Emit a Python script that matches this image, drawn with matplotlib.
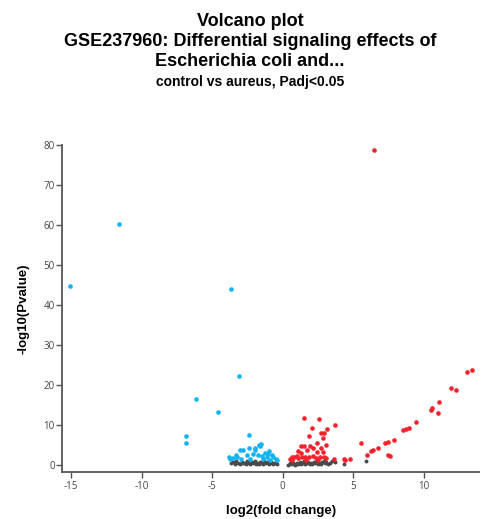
import matplotlib.pyplot as plt

# down-regulated (blue)
down_x = [-15.1, -11.6, -3.67, -3.12, -6.15, -4.61, -6.86, -6.86, -2.39,
          -1.52, -1.61, -1.94, -2.39, -2.79, -0.99, -1.28, -2.09, -2.55, -1.77,
          -1.47, -1.13, -0.78, -0.67, -0.50, -3.26, -3.55, -2.32, -1.38, -0.43,
          -3.74, -3.03, -3.33, -1.96, -1.66, -3.80, -2.95, -0.90, -1.05]
down_y = [44.8, 60.2, 44.1, 22.4, 16.6, 13.4, 7.2, 5.5, 7.5,
          5.3, 4.7, 4.3, 4.2, 3.8, 3.6, 3.2, 2.8, 2.7, 2.6,
          2.3, 2.2, 2.6, 2.0, 1.7, 2.2, 1.8, 1.7, 1.7, 1.3,
          1.7, 3.8, 2.7, 3.8, 5.1, 2.2, 1.6, 1.4, 2.9]

# up-regulated (red)
up_x = [6.5, 13.05, 13.45, 11.96, 12.29, 11.06, 10.61, 10.5, 11.01, 9.45,
        8.55, 8.74, 8.93, 7.87, 7.45, 7.26, 5.55, 6.74, 6.38, 6.26,
        5.98, 7.49, 7.63, 4.37, 4.77, 4.44,
        1.51, 2.57, 3.71, 2.08, 3.16, 2.72, 2.95, 1.87, 2.84, 2.46,
        3.09, 1.28, 1.49, 1.94, 2.13, 1.70, 2.70, 2.46, 2.86, 1.09,
        1.28, 0.99, 0.64, 0.82, 0.52, 1.11, 1.35, 1.58, 1.89, 2.17,
        2.36, 2.65, 2.95, 3.09, 3.66, 0.66, 1.65, 2.53]
up_y = [78.8, 23.2, 23.8, 19.2, 18.7, 15.7, 14.3, 13.8, 13.0, 10.7,
        8.7, 9.0, 9.2, 6.2, 5.9, 5.6, 5.6, 4.3, 3.7, 3.5,
        2.7, 2.7, 2.3, 1.7, 1.5, 1.3,
        11.7, 11.5, 10.0, 9.2, 9.1, 8.0, 8.0, 7.2, 6.7, 5.5,
        5.0, 4.7, 4.7, 4.7, 4.2, 3.8, 4.2, 3.4, 3.3, 3.6,
        3.0, 2.3, 2.2, 2.0, 1.7, 1.8, 2.2, 2.0, 2.0, 2.3,
        1.8, 2.0, 2.2, 1.8, 1.7, 1.3, 1.3, 1.3]

# not significant (gray)
ns_x = [-3.7, -3.55, -3.4, -3.3, -3.15, -3.0, -2.9, -2.8, -2.7, -2.6, -2.5,
        -2.4, -2.3, -2.2, -2.1, -2.0, -1.9, -1.8, -1.7, -1.6, -1.5, -1.4,
        -1.3, -1.2, -1.1, -1.0, -0.9, -0.8, -0.7, -0.6, -0.5, -0.4,
        0.4, 0.5, 0.6, 0.7, 0.8, 0.9, 1.0, 1.1, 1.2, 1.3, 1.4, 1.5, 1.6,
        1.7, 1.8, 1.9, 2.0, 2.1, 2.2, 2.3, 2.4, 2.5, 2.6, 2.7, 2.8, 2.9,
        3.0, 3.1, 3.2, 3.35, 3.5, 3.7, 4.37, 5.93]
ns_y = [0.5, 0.8, 0.4, 1.0, 0.6, 0.3, 0.9, 0.5, 0.7, 0.4, 1.1,
        0.6, 0.3, 0.8, 0.5, 1.0, 0.4, 0.7, 0.3, 0.9, 0.6, 0.4,
        1.0, 0.5, 0.8, 0.3, 0.6, 0.9, 0.4, 0.7, 0.5, 0.3,
        0.2, 0.5, 0.3, 0.7, 0.4, 0.2, 0.6, 0.3, 0.8, 0.4, 0.5, 1.0, 0.3,
        0.6, 0.8, 0.4, 0.7, 0.3, 0.9, 0.5, 1.1, 0.4, 0.7, 0.3, 0.9, 1.2,
        0.5, 0.8, 0.3, 0.6, 1.1, 0.9, 0.4, 1.0]

title_lines = "Volcano plot\nGSE237960: Differential signaling effects of\nEscherichia coli and..."
subtitle = "control vs aureus, Padj<0.05"

plt.rcParams['font.family'] = ['Liberation Sans', 'DejaVu Sans']
plt.rcParams['axes.unicode_minus'] = False

fig = plt.figure(figsize=(4.81, 5.19), dpi=100)
ax = fig.add_axes([0.1295, 0.0911, 0.8705, 0.6295])

ax.scatter(ns_x, ns_y, s=8, color='#4a4a4a', linewidths=0, zorder=2)
ax.scatter(down_x, down_y, s=11, color='#10b4f5', linewidths=0, zorder=3)
ax.scatter(up_x, up_y, s=11, color='#f5222d', linewidths=0, zorder=3)

ax.set_xlim(-15.63, 14.06)
ax.set_ylim(-1.6, 80)
ax.set_xticks([-15, -10, -5, 0, 5, 10])
ax.set_yticks([0, 10, 20, 30, 40, 50, 60, 70, 80])

for s in ['top', 'right']:
    ax.spines[s].set_visible(False)
for s in ['left', 'bottom']:
    ax.spines[s].set_color('#555555')
    ax.spines[s].set_linewidth(1.3)
ax.tick_params(colors='#555555', length=4, width=1)
ax.tick_params(axis='y', pad=1.5)
ax.tick_params(axis='x', pad=3)
for lab in ax.get_xticklabels() + ax.get_yticklabels():
    lab.set_color('#444444')
    lab.set_fontfamily(['Open Sans', 'DejaVu Sans'])
    lab.set_fontsize(7)

ax.set_xlabel("log2(fold change)", fontsize=9.5, fontweight='bold')
ax.xaxis.set_label_coords(0.522, -0.102)
ax.set_ylabel("-log10(Pvalue)", fontsize=9.5, fontweight='bold')
ax.yaxis.set_label_coords(-0.079, 0.5)

fig.text(250 / 481, 1 - 13 / 519, title_lines, ha='center', va='top',
         fontsize=13, fontweight='bold', linespacing=1.22)
fig.text(250 / 481, 1 - 82 / 519, subtitle, ha='center', va='center',
         fontsize=10, fontweight='bold')

fig.savefig("out.png", dpi=100)
